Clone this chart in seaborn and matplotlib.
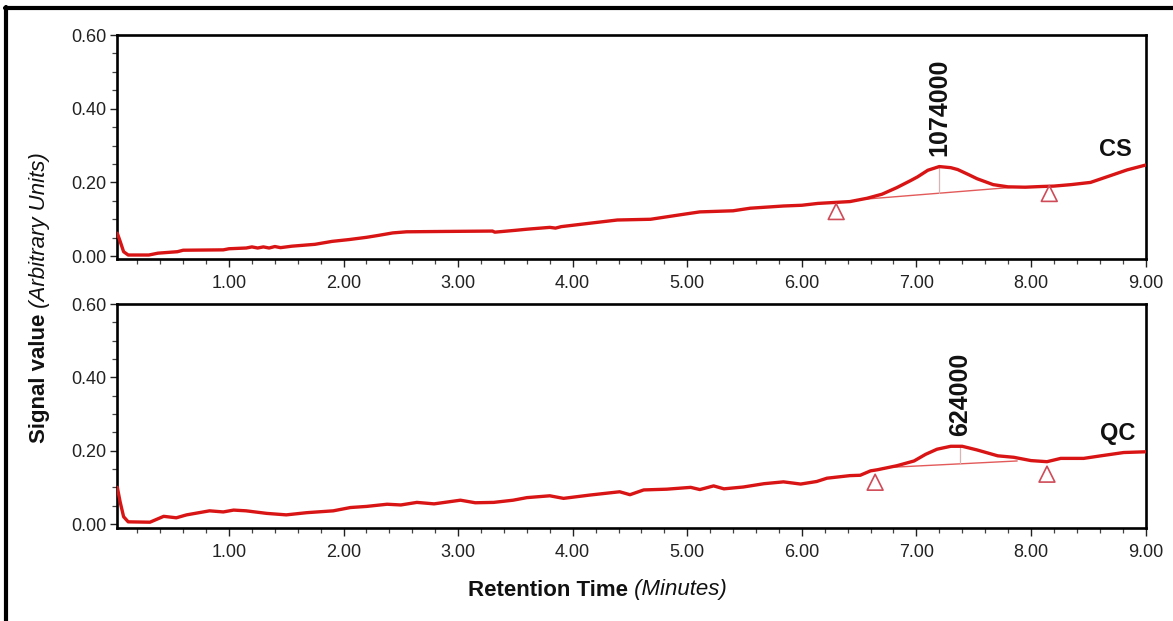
import numpy as np
import pandas as pd
import matplotlib
matplotlib.use("Agg")
import matplotlib.pyplot as plt
from matplotlib.lines import Line2D
from matplotlib.ticker import MultipleLocator, FormatStrFormatter
import seaborn as sns

# ---- chromatogram traces (retention time in minutes, signal in arbitrary units) ----
cs_time = [0.025, 0.05, 0.08, 0.12, 0.30, 0.38, 0.55, 0.60, 0.95, 1.00, 1.15, 1.20,
           1.25, 1.30, 1.35, 1.40, 1.45, 1.55, 1.75, 1.90, 2.05, 2.20, 2.30, 2.43,
           2.55, 2.90, 3.30, 3.32, 3.50, 3.60, 3.80, 3.85, 3.90, 4.17, 4.39, 4.68,
           4.85, 5.00, 5.11, 5.40, 5.55, 5.84, 6.00, 6.14, 6.42, 6.57, 6.70, 6.83,
           6.95, 7.01, 7.10, 7.20, 7.30, 7.36, 7.45, 7.53, 7.67, 7.80, 7.95, 8.10,
           8.20, 8.35, 8.52, 8.69, 8.84, 9.00]
cs_signal = [0.062, 0.040, 0.012, 0.003, 0.003, 0.008, 0.012, 0.016, 0.017, 0.020, 0.022, 0.025,
             0.022, 0.025, 0.022, 0.026, 0.023, 0.027, 0.032, 0.040, 0.045, 0.051, 0.056, 0.063,
             0.066, 0.067, 0.068, 0.065, 0.070, 0.073, 0.078, 0.076, 0.080, 0.090, 0.098, 0.100,
             0.108, 0.115, 0.120, 0.123, 0.130, 0.136, 0.138, 0.143, 0.148, 0.157, 0.168, 0.186,
             0.205, 0.215, 0.233, 0.243, 0.240, 0.235, 0.222, 0.210, 0.194, 0.188, 0.187, 0.189,
             0.190, 0.194, 0.200, 0.218, 0.234, 0.247]

qc_time = [0.025, 0.05, 0.08, 0.12, 0.31, 0.43, 0.54, 0.63, 0.83, 0.95, 1.04, 1.15,
           1.33, 1.50, 1.68, 1.91, 2.06, 2.20, 2.38, 2.50, 2.64, 2.79, 3.02, 3.15,
           3.31, 3.48, 3.60, 3.80, 3.92, 4.15, 4.41, 4.50, 4.62, 4.82, 5.03, 5.11,
           5.23, 5.32, 5.49, 5.67, 5.84, 5.99, 6.13, 6.22, 6.42, 6.51, 6.60, 6.66,
           6.83, 6.98, 7.08, 7.18, 7.30, 7.40, 7.53, 7.71, 7.85, 8.00, 8.14, 8.26,
           8.46, 8.61, 8.81, 9.00]
qc_signal = [0.100, 0.060, 0.020, 0.006, 0.005, 0.021, 0.017, 0.025, 0.036, 0.033, 0.038, 0.036,
             0.029, 0.025, 0.031, 0.036, 0.045, 0.048, 0.054, 0.052, 0.059, 0.055, 0.065, 0.058,
             0.059, 0.065, 0.072, 0.077, 0.070, 0.079, 0.088, 0.080, 0.093, 0.095, 0.100, 0.094,
             0.104, 0.096, 0.101, 0.110, 0.115, 0.109, 0.116, 0.125, 0.132, 0.133, 0.145, 0.148,
             0.159, 0.172, 0.190, 0.204, 0.212, 0.212, 0.202, 0.186, 0.182, 0.173, 0.170, 0.179,
             0.179, 0.186, 0.195, 0.197]

# ---- peak integration details ----
sample_names = ["CS", "QC"]
peak_areas = [1074000, 624000]
peak_time = [7.20, 7.38]
peak_top = [0.243, 0.212]
peak_base = [0.170, 0.166]
baseline_time = [[6.57, 7.85], [6.80, 7.88]]
baseline_signal = [[0.155, 0.187], [0.155, 0.172]]
marker_time = [[6.30, 8.16], [6.64, 8.14]]
marker_signal = [[0.121, 0.170], [0.114, 0.136]]

x_ticks = [1, 2, 3, 4, 5, 6, 7, 8, 9]
y_ticks = [0.0, 0.2, 0.4, 0.6]

sns.set_theme(style="ticks")
plt.rcParams["font.family"] = ["Liberation Sans", "DejaVu Sans"]

W, H = 1173, 621
fig = plt.figure(figsize=(W / 100, H / 100), dpi=100)
fig.patch.set_facecolor("white")

trace_red = "#d81414"
base_red = "#e35a5a"
tri_red = "#cf4b58"
ink = "#111111"

left = 117.3 / W
width = (1145.5 - 117.3) / W
ax_h = 223.7 / H
ax_top = fig.add_axes([left, 1 - 258.7 / H, width, ax_h])
ax_bot = fig.add_axes([left, 1 - 527.7 / H, width, ax_h])

traces = [(cs_time, cs_signal), (qc_time, qc_signal)]
ylims = [(-0.007, 0.6), (-0.01, 0.6)]
name_pos = [(8.74, 0.29), (8.76, 0.247)]

for i, ax in enumerate([ax_top, ax_bot]):
    t, s = traces[i]
    df = pd.DataFrame({"Retention Time": t, "Signal": s})
    sns.lineplot(data=df, x="Retention Time", y="Signal", ax=ax,
                 color=trace_red, linewidth=2.4, zorder=3)

    # integration baseline and peak drop line
    ax.plot(baseline_time[i], baseline_signal[i], color=base_red, lw=1.0, zorder=2)
    ax.plot([peak_time[i], peak_time[i]], [peak_base[i], peak_top[i]],
            color="#d9b4b4", lw=0.9, zorder=2)

    # peak start/end markers
    ax.scatter(marker_time[i], marker_signal[i], marker="^", s=130,
               facecolors="none", edgecolors=tri_red, linewidths=1.2, zorder=4)

    # peak area label
    ax.text(peak_time[i], peak_top[i] + 0.028, f"{peak_areas[i]}", rotation=90,
            ha="center", va="bottom", fontsize=18, fontweight="bold",
            color=ink, clip_on=False)
    ax.text(name_pos[i][0], name_pos[i][1], sample_names[i], ha="center", va="center",
            fontsize=17, fontweight="bold", color=ink)

    ax.set_xlim(0.025, 9.0)
    ax.set_ylim(*ylims[i])
    ax.set_xticks(x_ticks)
    ax.set_yticks(y_ticks)
    ax.xaxis.set_major_formatter(FormatStrFormatter("%.2f"))
    ax.yaxis.set_major_formatter(FormatStrFormatter("%.2f"))
    ax.xaxis.set_minor_locator(MultipleLocator(0.2))
    ax.yaxis.set_minor_locator(MultipleLocator(0.05))
    ax.tick_params(axis="both", which="major", labelsize=13, colors="#222222",
                   width=1.0, direction="out")
    ax.tick_params(axis="x", which="major", length=6, pad=6)
    ax.tick_params(axis="y", which="major", length=5, pad=3)
    ax.tick_params(axis="both", which="minor", length=3.5, width=0.9, color="#444444")
    ax.set_xlabel("")
    ax.set_ylabel("")
    for sp in ax.spines.values():
        sp.set_visible(True)
        sp.set_linewidth(1.9)
        sp.set_color("black")
    ax.set_facecolor("white")

# axis titles: bold quantity followed by italic unit
label_size = 16
xl = fig.text(468 / W, 1 - 590 / H, "Retention Time", ha="left", va="center",
              fontsize=label_size, fontweight="bold", color=ink)
fig.add_artist(plt.Annotation(" (Minutes)", xy=(1, 0), xycoords=xl,
                              ha="left", va="bottom", fontsize=label_size,
                              fontstyle="italic", color=ink))

yl = fig.text(40 / W, 1 - 443 / H, "Signal value", ha="center", va="bottom",
              rotation=90, fontsize=label_size, fontweight="bold", color=ink)
fig.add_artist(plt.Annotation(" (Arbitrary Units)", xy=(0.5, 1), xycoords=yl,
                              ha="center", va="bottom", rotation=90,
                              fontsize=label_size, fontstyle="italic", color=ink))

# frame lines along the top and left of the figure
fig.add_artist(Line2D([5 / W, 1.0], [1 - 8 / H, 1 - 8 / H], transform=fig.transFigure,
                      color="black", lw=3.0))
fig.add_artist(Line2D([6 / W, 6 / W], [0.0, 1 - 6.5 / H], transform=fig.transFigure,
                      color="black", lw=3.0))

fig.savefig("out.png", dpi=100, facecolor="white")
